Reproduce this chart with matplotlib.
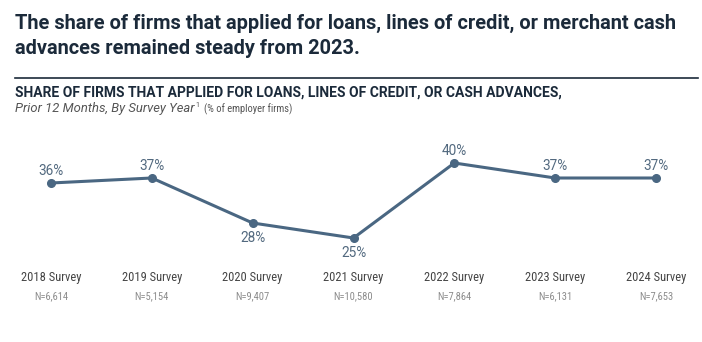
import matplotlib
matplotlib.use("Agg")
import matplotlib.pyplot as plt
from matplotlib.lines import Line2D

surveys = ["2018 Survey", "2019 Survey", "2020 Survey", "2021 Survey",
           "2022 Survey", "2023 Survey", "2024 Survey"]
sample_sizes = ["N=6,614", "N=5,154", "N=9,407", "N=10,580",
                "N=7,864", "N=6,131", "N=7,653"]
share_applied = [36, 37, 28, 25, 40, 37, 37]
label_below = [False, False, True, True, False, False, False]

NAVY = "#1b2a3a"
LINE = "#4a6782"
VALUE = "#52697f"
GRAY = "#555555"
LIGHT = "#8c8c8c"

plt.rcParams["font.family"] = ["Roboto", "DejaVu Sans"]
NARROW = ["Roboto Condensed", "Liberation Sans Narrow", "Roboto", "DejaVu Sans"]

W, H = 702, 342
fig = plt.figure(figsize=(W / 100, H / 100), dpi=100)


def fx(px):
    return px / W


def fy(py):
    return 1 - py / H


fig.text(fx(15), fy(23), "The share of firms that applied for loans, lines of credit, or merchant cash",
         fontsize=14.4, fontweight="bold", color=NAVY, va="center", ha="left")
fig.text(fx(15), fy(48), "advances remained steady from 2023.",
         fontsize=14.4, fontweight="bold", color=NAVY, va="center", ha="left")

fig.add_artist(Line2D([fx(15), fx(698)], [fy(78), fy(78)], color=NAVY, lw=1.2,
                      transform=fig.transFigure))

fig.text(fx(15), fy(93), "SHARE OF FIRMS THAT APPLIED FOR LOANS, LINES OF CREDIT, OR CASH ADVANCES,",
         fontsize=10, fontweight="bold", color=NAVY, va="center", ha="left")
sub = fig.text(fx(15), fy(109), "Prior 12 Months, By Survey Year", fontsize=9.4,
               style="italic", fontweight="normal", color=GRAY, va="center", ha="left")
fig.canvas.draw()
bb = sub.get_window_extent()
sup_x = bb.x1 / W
fig.text(sup_x + fx(0.5), fy(105), "1", fontsize=5, color=GRAY, va="center", ha="left")
fig.text(sup_x + fx(10), fy(109), "(% of employer firms)", fontsize=7.6, color=GRAY,
         family=NARROW, va="center", ha="left")

# plot area: x index 0..6 maps to px 51..656, y 5 px per percentage point
ax = fig.add_axes([fx(51), fy(263), fx(656) - fx(51), (263 - 143) / H])
ax.set_xlim(0, 6)
ax.set_ylim(37 - (263 - 178) / 5, 37 + (178 - 143) / 5)
ax.axis("off")

xs = list(range(len(surveys)))
ax.plot(xs, share_applied, color=LINE, lw=2.2, marker="o", ms=5.5,
        solid_capstyle="round", clip_on=False)

for x, v, below in zip(xs, share_applied, label_below):
    off = -10.5 if below else 8.8
    ax.annotate(f"{v}%", (x, v), xytext=(0, off), textcoords="offset points",
                ha="center", va="center", fontsize=9.8, color=VALUE)

for x, s, n in zip(xs, surveys, sample_sizes):
    px = 51 + x * (656 - 51) / 6
    fig.text(fx(px), fy(278), s, fontsize=9, color="#444444", family=NARROW,
             ha="center", va="center")
    fig.text(fx(px), fy(296), n, fontsize=7.6, color=LIGHT, family=NARROW,
             ha="center", va="center")

fig.savefig("out.png", dpi=100, facecolor="white")
